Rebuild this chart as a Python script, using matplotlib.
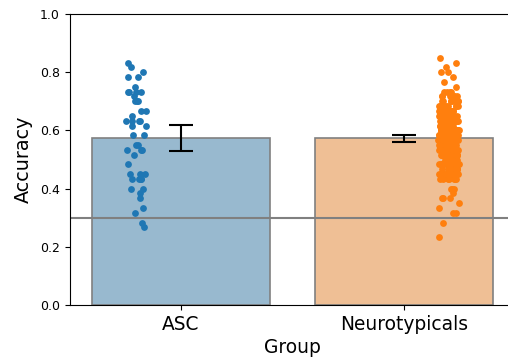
import numpy as np
import matplotlib
matplotlib.use("Agg")
import matplotlib.pyplot as plt

groups = ["ASC", "Neurotypicals"]
n_trials = 60

# number of correct trials (out of 60) per participant
asc_correct_values = [50, 49, 48, 47, 45, 44, 43, 42, 40, 39, 38, 37, 35, 33, 32,
                      31, 29, 27, 26, 24, 23, 22, 20, 19, 17, 16]
asc_correct_counts = [1, 1, 1, 2, 1, 4, 1, 3, 2, 1, 4, 2, 2, 2, 3,
                      1, 1, 3, 4, 2, 1, 1, 1, 1, 1, 1]

nt_correct_values = [51, 50, 49, 48, 47, 46, 45, 44, 43, 42, 41, 40, 39, 38, 37,
                     36, 35, 34, 33, 32, 31, 30, 29, 28, 27, 26, 24, 23, 22, 21,
                     20, 19, 17, 14]
nt_correct_counts = [1, 1, 1, 2, 1, 1, 1, 4, 6, 9, 11, 13, 14, 15, 16,
                     17, 17, 17, 17, 16, 15, 14, 13, 11, 9, 7, 3, 1, 3, 1,
                     1, 2, 1, 1]

chance = 0.3

bar_colors = ["#3274a1", "#e1812c"]
point_colors = ["#1f77b4", "#ff7f0e"]

asc_acc = np.repeat(asc_correct_values, asc_correct_counts) / n_trials
nt_acc = np.repeat(nt_correct_values, nt_correct_counts) / n_trials

W, H, DPI = 508, 359, 100
fig = plt.figure(figsize=(W / DPI, H / DPI), dpi=DPI)
ax = fig.add_axes([69.5 / W, 54 / H, 446 / W, 291 / H])

data = [asc_acc, nt_acc]
x = np.arange(len(groups))
means = [d.mean() for d in data]
cis = [1.96 * d.std(ddof=1) / np.sqrt(len(d)) for d in data]

for i in range(len(groups)):
    fc = matplotlib.colors.to_rgba(bar_colors[i], 0.5)
    ax.bar(x[i], means[i], width=0.8, color=fc, edgecolor="0.5", linewidth=1.2, zorder=1)

ax.errorbar(x, means, yerr=cis, fmt="none", ecolor="black", elinewidth=1.5,
            capsize=8.6, capthick=1.5, zorder=3)

offsets = [-0.2, 0.2]
rng = np.random.default_rng(3)
for i, d in enumerate(data):
    jit = rng.uniform(-0.046, 0.046, len(d))
    ax.scatter(x[i] + offsets[i] + jit, d, s=24, color=point_colors[i],
               linewidths=0, zorder=4)

ax.axhline(chance, color="gray", linewidth=1.5, zorder=2)

ax.set_xlim(-0.5, 1.5)
ax.set_ylim(0, 1.0)
ax.set_xticks(x)
ax.set_xticklabels(groups, fontsize=13.4)
ax.set_yticks([0.0, 0.2, 0.4, 0.6, 0.8, 1.0])
ax.tick_params(axis="y", labelsize=9)
ax.set_xlabel("Group", fontsize=13.4, labelpad=3)
ax.set_ylabel("Accuracy", fontsize=13.8, labelpad=5)

fig.savefig("out.png", dpi=DPI)
